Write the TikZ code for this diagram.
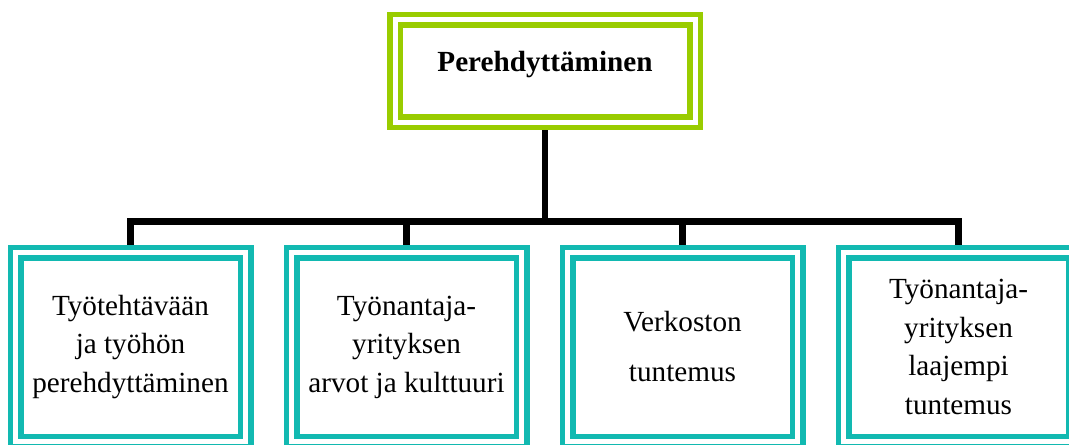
\documentclass[tikz,border=0pt]{standalone}
\usepackage{fontspec}
\setmainfont{Liberation Serif}
\definecolor{leafgreen}{RGB}{153,204,0}
\definecolor{teal}{RGB}{18,185,177}
\begin{document}
\begin{tikzpicture}[x=0.5pt,y=-0.5pt,%
% common options for the title box:
head/.style = {draw=leafgreen, double=white, line width=2.75pt,
            double distance=2.5pt, outer sep=4pt, inner sep=0,
            minimum width=150pt, minimum height=51pt,
            font=\fontsize{14.6}{19.25}\selectfont\bfseries,
            text height=10pt, text depth=9pt},
% common options for the lower boxes:
part/.style = {draw=teal, double=white, line width=2.75pt,
            double distance=2.5pt, outer sep=4pt, inner sep=0,
            minimum width=115pt, minimum height=94.5pt, align=center,
            font=\fontsize{14.6}{19.25}\selectfont},
% common options for the connectors:
link/.style = {draw=black, line width=3.25pt, line join=miter}]
\useasboundingbox (0,0) rectangle (1069,444);
\node[head] (P0) at (545,71) {Perehdyttäminen};
\node[part] (P1) at (130.5,347) {Työtehtävään\\ja työhön\\perehdyttäminen};
\node[part] (P2) at (406.5,347) {Työnantaja-\\yrityksen\\arvot ja kulttuuri};
\node[part] (P3) at (682.5,347) {Verkoston\\[5.75pt]tuntemus};
\node[part] (P4) at (958.5,347) {Työnantaja-\\yrityksen\\laajempi\\tuntemus};
\coordinate (bus) at (545,221.5);
\draw[link] (P0.south) to (bus);
\draw[link] (P1.north) |- (bus);
\draw[link] (P2.north) |- (bus);
\draw[link] (P3.north) |- (bus);
\draw[link] (P4.north) |- (bus);
\end{tikzpicture}
\end{document}
